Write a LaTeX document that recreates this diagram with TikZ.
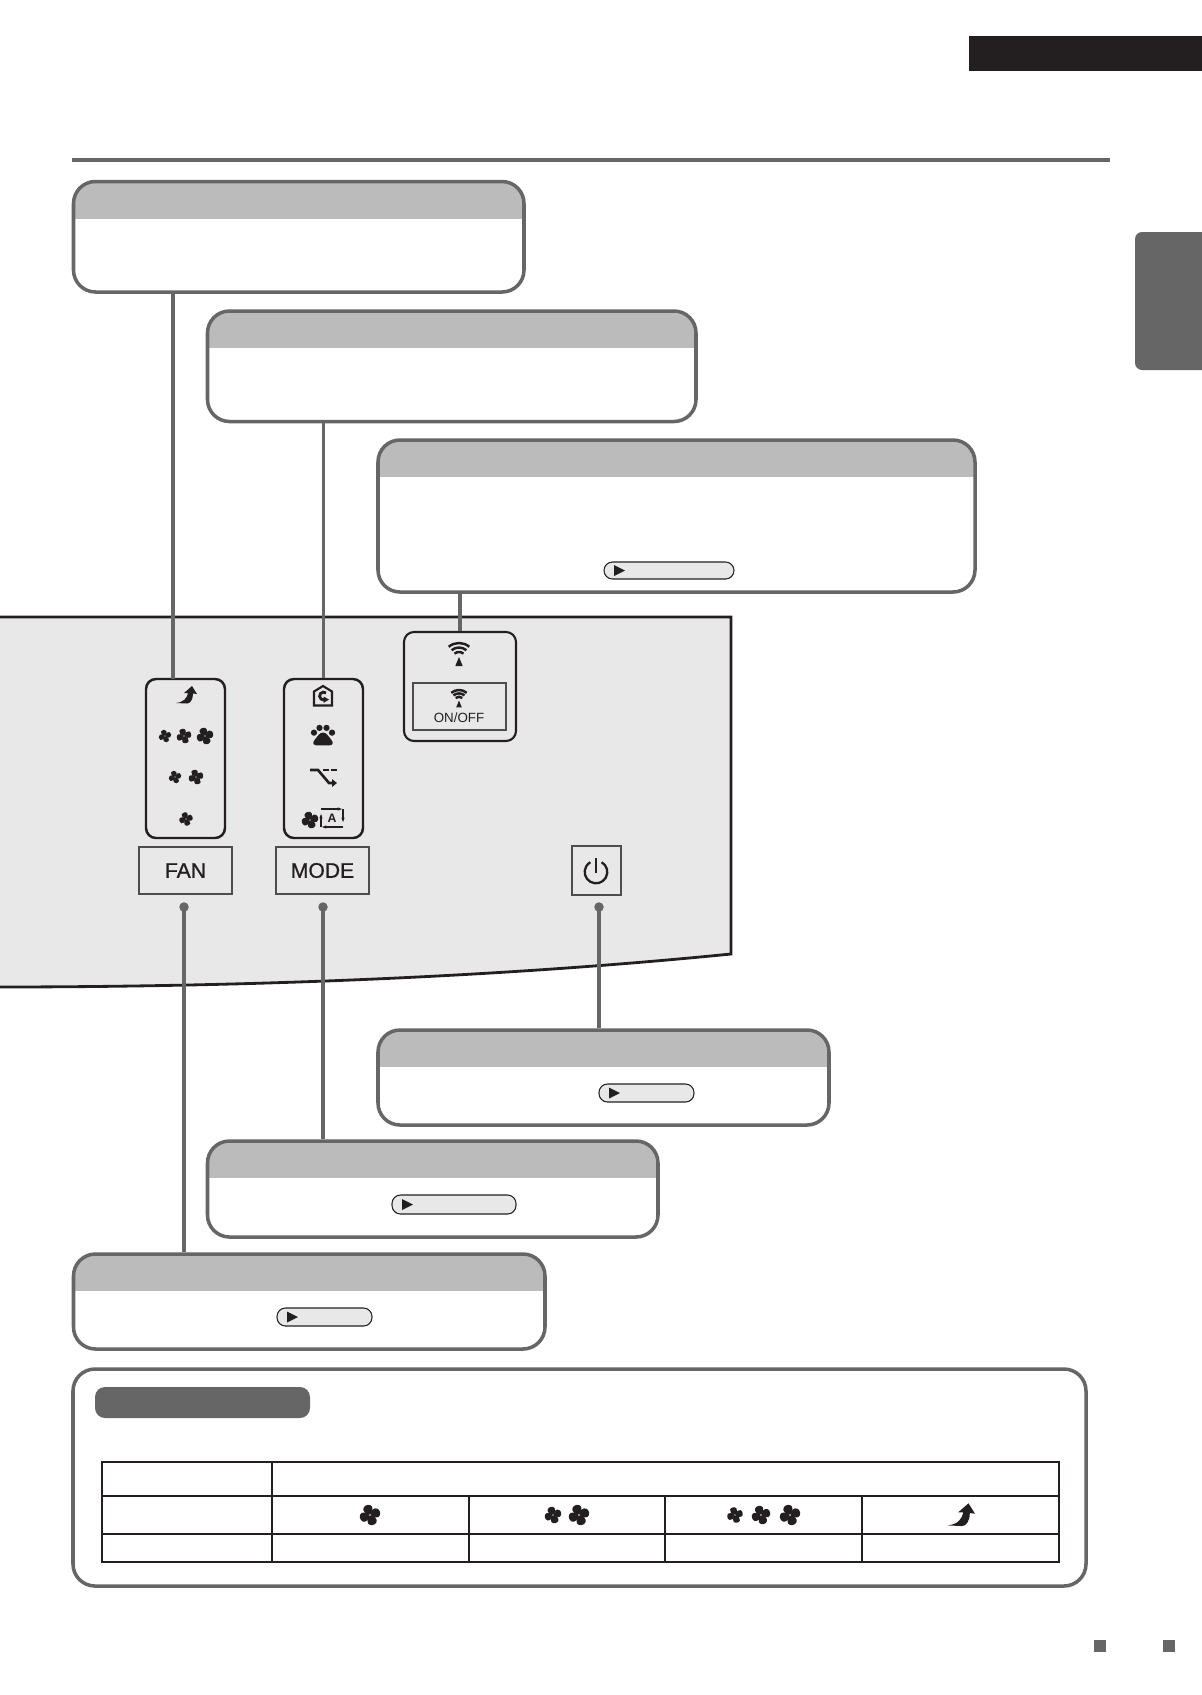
\documentclass[tikz,border=0pt]{standalone}
\usepackage{fontspec}
\setmainfont{Liberation Sans}
\newfontfamily\keyfont[FakeBold=1]{Liberation Sans}
\usepackage{tikz}
\usetikzlibrary{arrows.meta,fit}
\definecolor{ink}{HTML}{231F20}
\definecolor{leadgray}{HTML}{666666}
\definecolor{headgray}{HTML}{BBBBBB}
\definecolor{panelgray}{HTML}{E8E8E8}
\tikzset{
  callout/.style={
    draw=leadgray,
    line width=2pt,
    fill=white,
    inner sep=0pt,
    rounded corners=.44cm,
    path picture={
      \fill[headgray,sharp corners] (path picture bounding box.north west)
        rectangle ([yshift=-.74cm]path picture bounding box.north east);
    },
  },
  pill/.style={
    draw=ink,
    line width=.6pt,
    fill=panelgray,
    inner sep=0pt,
    rounded corners=.17cm,
    path picture={
      \fill[ink,sharp corners] ([shift={(.2cm,.11cm)}]path picture bounding box.west)
        -- ([shift={(.2cm,-.11cm)}]path picture bounding box.west)
        -- ([xshift=.42cm]path picture bounding box.west) -- cycle;
    },
  },
  ledgroup/.style={
    draw=ink,
    line width=1.4pt,
    inner sep=0pt,
    rounded corners=.2cm,
  },
  keycap/.style={
    draw=ink!80,
    line width=.9pt,
    inner sep=0pt,
  },
  keytext/.style={
    text=ink,
    font=\keyfont\fontsize{12}{14}\selectfont,
  },
  lead/.style={
    draw=leadgray,
    line width=1.9pt,
  },
  leaddot/.style={
    circle,
    fill=leadgray,
    inner sep=0pt,
    minimum size=.19cm,
  },
  fanglyph/.pic={
    \foreach \a in {15,105,195,285} {
      \fill[ink,rotate=\a] (.02,.05) .. controls (-.35,.2) and (-.62,.5) .. (-.42,.82)
        .. controls (-.25,1.08) and (.3,1.05) .. (.4,.72)
        .. controls (.47,.5) and (.3,.3) .. (.14,.06) -- cycle;
    }
  },
  boostglyph/.pic={
    \fill[ink] (-11,-8) .. controls (-3,-7) and (0,-3) .. (1,2) -- (-3,2)
      -- (5,9) -- (10,1) -- (6,1.5) .. controls (6,-5) and (3,-8.5) .. (0,-8.5) -- cycle;
  },
  wifiglyph/.pic={
    \foreach \r in {7,11.5,16} {
      \draw[ink,line width=1.4pt] (130:\r) arc[start angle=130,end angle=50,radius=\r];
    }
    \fill[ink] (0,2) -- (-3.7,-7) -- (3.7,-7) -- cycle;
  },
  pawglyph/.pic={
    \foreach \x/\y in {-9.5/2.5,-3.7/7.5,3.7/7.5,9.5/2.5} {
      \fill[ink] (\x,\y) circle[radius=3.3];
    }
    \fill[ink,rounded corners=4pt] (0,6) -- (-13.5,-11) -- (13.5,-11) -- cycle;
  },
  swingglyph/.pic={
    \draw[ink,line width=1.5pt] (-13,7) -- (-5,7) -- (6,-6) -- (11,-6);
    \draw[ink,line width=1.5pt,dash pattern=on 3.5pt off 1pt] (0,7) -- (14,7);
    \fill[ink] (9,-2) -- (14,-6) -- (9,-10) -- cycle;
  },
  homeglyph/.pic={
    \draw[ink,line width=1.2pt] (-9,-9.5) -- (9,-9.5) -- (9,4.5) -- (0,10) -- (-9,4.5) -- cycle;
    \draw[ink,line width=1.6pt] (3,3) arc[start angle=50,end angle=310,radius=3.9];
    \fill[ink] (.5,-7) -- (.5,-.5) -- (6,-3.5) -- cycle;
  },
  autoglyph/.pic={
    \draw[ink,line width=.6pt,-{Stealth[length=2.5pt]}] (-11,9) -- (10,9);
    \draw[ink,line width=.6pt,-{Stealth[length=2.5pt]}] (11,9) -- (11,-4);
    \draw[ink,line width=.6pt,-{Stealth[length=2.5pt]}] (11,-9) -- (-10,-9);
    \draw[ink,line width=.6pt,-{Stealth[length=2.5pt]}] (-11,-9) -- (-11,4);
    \node[text=ink,font=\fontsize{7}{8}\selectfont\bfseries,inner sep=0pt] (auto-letter) at (0,0) {A};
  },
}
\begin{document}
\begin{tikzpicture}[x=.02cm,y=.02cm]
  \useasboundingbox (0,0) rectangle (1202,-1695);

  % Page furniture
  \fill[ink] (969,-36) rectangle (1210,-71);
  \draw[leadgray,line width=2.2pt] (72,-160) -- (1110,-160);
  \fill[leadgray,rounded corners=4pt] (1135,-232) rectangle (1220,-370);
  \foreach \x in {1100,1168.5} {
    \fill[leadgray] (\x-6,-1640) rectangle (\x+6,-1652);
  }

  % Control panel
  \filldraw[fill=panelgray,draw=ink,line width=1.6pt] (-5,-617) -- (731,-617) -- (731,-954)
    .. controls (500,-977) and (250,-987) .. (-5,-987);

  % Callouts above the panel
  \node [callout, fit={(73.5,-181.5) (524,-292)}] (speed-note) {};
  \node [callout, fit={(207.5,-311) (696,-421.5)}] (lamp-note) {};
  \node [callout, fit={(378,-440) (975,-592)}] (wifi-note) {};
  \node [pill, fit={(604,-562) (734,-579)}] (wifi-pill) {};

  % Lamps and keys
  \node [ledgroup, fit={(146,-679) (225,-838)}] (fan-leds) {};
  \node [ledgroup, fit={(284,-679) (363,-838)}] (mode-leds) {};
  \node [ledgroup, line width=1.2pt, fit={(404,-632) (516,-741)}] (wifi-leds) {};
  \node [keycap, fit={(139,-847) (232,-894)}] (fan-key) {};
  \node [keycap, fit={(276,-847) (369,-894)}] (mode-key) {};
  \node [keycap, fit={(413,-683) (506,-730)}] (wifi-key) {};
  \node [keycap, line width=1.5pt, fit={(572,-846) (621,-895)}] (power-key) {};
  \node [keytext] (fan-label) at (fan-key) {FAN};
  \node [keytext] (mode-label) at (mode-key) {MODE};
  \node [text=ink, font=\fontsize{7.6}{9}\selectfont, inner sep=0pt] (wifi-label) at (459,-718) {ON/OFF};

  \pic at (187,-695) {boostglyph};
  \pic[scale=6.5] at (165,-736) {fanglyph};
  \pic[scale=7.5] at (184,-736) {fanglyph};
  \pic[scale=8.5] at (205,-736) {fanglyph};
  \pic[scale=6.5] at (175,-777) {fanglyph};
  \pic[scale=7.5] at (196,-777) {fanglyph};
  \pic[scale=7] at (186,-819) {fanglyph};

  \pic at (323,-696) {homeglyph};
  \pic[scale=.95] at (323,-735) {pawglyph};
  \pic at (323,-777) {swingglyph};
  \pic[scale=8.5] at (310,-820) {fanglyph};
  \pic at (332,-818) {autoglyph};

  \pic at (459,-659) {wifiglyph};
  \pic[scale=.75] at (459,-702) {wifiglyph};

  \draw[ink,line width=1.3pt] (596,-872) ++(60:11.3) arc[start angle=60,end angle=-240,radius=11.3];
  \draw[ink,line width=1.5pt] (596,-858) -- (596,-873);

  % Callouts below the panel
  \node [callout, fit={(378,-1030) (829,-1125)}] (power-note) {};
  \node [pill, fit={(599,-1084) (694,-1102)}] (power-pill) {};
  \node [callout, fit={(207.5,-1141) (658,-1237)}] (mode-note) {};
  \node [pill, fit={(392,-1195) (516,-1214)}] (mode-pill) {};
  \node [callout, fit={(73.5,-1254) (545,-1349)}] (fan-note) {};
  \node [pill, fit={(277,-1308) (372,-1326)}] (fan-pill) {};

  % Leads
  \coordinate (fan-tap) at (173,-679);
  \draw[lead] (fan-tap |- speed-note.south) -- (fan-tap);
  \draw[lead] (mode-leds.north |- lamp-note.south) -- (mode-leds.north);
  \draw[lead] (wifi-leds.north |- wifi-note.south) -- (wifi-leds.north);

  \node [leaddot] (fan-dot) at (184,-907) {};
  \node [leaddot] (mode-dot) at (323,-907) {};
  \node [leaddot] (power-dot) at (599,-907) {};
  \draw[lead] (fan-dot.center) -- (fan-dot |- fan-note.north);
  \draw[lead] (mode-dot.center) -- (mode-dot |- mode-note.north);
  \draw[lead] (power-dot.center) -- (power-dot |- power-note.north);

  % Note with table
  \node [draw=leadgray, line width=2pt, fill=white, inner sep=0pt, rounded corners=.44cm,
    fit={(73,-1369) (1086,-1586)}] (table-note) {};
  \node [fill=leadgray, inner sep=0pt, rounded corners=.2cm,
    fit={(95,-1387) (310,-1418)}] (table-tag) {};

  \draw[ink,line width=1.3pt] (102,-1462) rectangle (1059,-1562);
  \draw[ink,line width=1.3pt] (102,-1496) -- (1059,-1496);
  \draw[ink,line width=1.3pt] (102,-1534) -- (1059,-1534);
  \draw[ink,line width=1pt] (272,-1462) -- (272,-1562);
  \foreach \x in {469,665,862} {
    \draw[ink,line width=1pt] (\x,-1496) -- (\x,-1562);
  }
  \pic[scale=10.5] at (370,-1515) {fanglyph};
  \pic[scale=8.5] at (553,-1515) {fanglyph};
  \pic[scale=10.5] at (579,-1515) {fanglyph};
  \pic[scale=8] at (735,-1515) {fanglyph};
  \pic[scale=9.5] at (761,-1515) {fanglyph};
  \pic[scale=10.5] at (790,-1515) {fanglyph};
  \pic[scale=1.3] at (962,-1515) {boostglyph};
\end{tikzpicture}
\end{document}
